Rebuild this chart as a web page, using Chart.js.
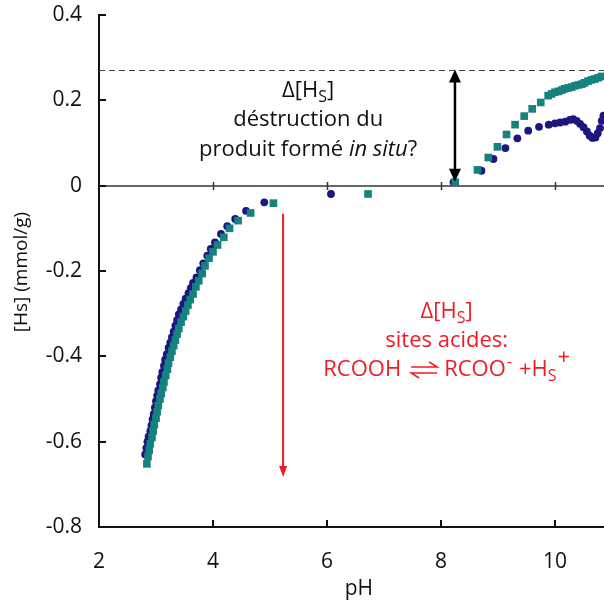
<!DOCTYPE html>
<html><head><meta charset="utf-8">
<script src="https://cdn.jsdelivr.net/npm/chart.js@4/dist/chart.umd.min.js"></script>
<style>html,body{margin:0;padding:0;background:#fff}canvas{display:block}</style>
</head><body>
<canvas id="c" width="604" height="604"></canvas>
<script>
// ---- tick labels ----
const xTicks = [2, 4, 6, 8, 10];
const yTicks = [0.4, 0.2, 0, -0.2, -0.4, -0.6, -0.8];
const yTickLabels = ['0.4', '0.2', '0', '-0.2', '-0.4', '-0.6', '-0.8'];

// ---- series 1 (navy circles) ----
const circlePH = [2.81,2.83,2.85,2.87,2.90,2.92,2.94,2.96,2.98,3.00,3.02,3.04,3.07,3.09,3.11,3.14,3.16,3.19,3.22,3.25,3.28,3.31,3.34,3.37,3.40,3.44,3.48,3.52,3.57,3.61,3.65,3.71,3.77,3.83,3.90,3.96,4.035,4.14,4.25,4.39,4.58,4.90,6.07,
  8.22,8.71,8.92,9.13,9.34,9.53,9.72,9.89,10.0,10.09,10.18,10.26,10.32,10.38,10.44,10.50,10.56,10.61,10.66,10.71,10.75,10.79,10.82,10.85];
const circleHs = [-0.630,-0.615,-0.600,-0.588,-0.575,-0.562,-0.548,-0.535,-0.520,-0.505,-0.492,-0.480,-0.465,-0.450,-0.437,-0.422,-0.408,-0.395,-0.380,-0.368,-0.355,-0.342,-0.328,-0.315,-0.302,-0.290,-0.277,-0.265,-0.252,-0.240,-0.228,-0.215,-0.198,-0.182,-0.164,-0.148,-0.133,-0.113,-0.095,-0.078,-0.059,-0.039,-0.0195,
  0.008,0.035,0.0625,0.088,0.111,0.129,0.138,0.143,0.146,0.148,0.150,0.154,0.156,0.152,0.145,0.137,0.127,0.117,0.112,0.113,0.123,0.135,0.152,0.164];

// ---- series 2 (teal squares) ----
const squarePH = [2.84,2.86,2.88,2.90,2.93,2.95,2.97,3.00,3.02,3.04,3.07,3.09,3.12,3.14,3.17,3.20,3.22,3.25,3.28,3.31,3.34,3.37,3.40,3.44,3.48,3.52,3.56,3.60,3.65,3.70,3.75,3.81,3.86,3.93,4.00,4.08,4.19,4.29,4.44,4.66,5.06,6.72,
  8.25,8.64,8.83,8.99,9.15,9.30,9.46,9.60,9.75,9.88,9.94,10.0,10.06,10.12,10.17,10.23,10.29,10.35,10.41,10.47,10.52,10.58,10.64,10.70,10.76,10.82];
const squareHs = [-0.652,-0.635,-0.620,-0.605,-0.590,-0.575,-0.560,-0.545,-0.530,-0.515,-0.500,-0.487,-0.473,-0.460,-0.445,-0.430,-0.416,-0.402,-0.388,-0.375,-0.362,-0.348,-0.335,-0.320,-0.307,-0.294,-0.280,-0.267,-0.254,-0.237,-0.223,-0.206,-0.188,-0.170,-0.155,-0.139,-0.121,-0.100,-0.082,-0.064,-0.041,-0.0195,
  0.008,0.037,0.066,0.091,0.120,0.143,0.163,0.180,0.195,0.211,0.215,0.219,0.221,0.224,0.227,0.229,0.231,0.234,0.236,0.238,0.241,0.245,0.248,0.250,0.253,0.256];

// ---- annotation levels ----
const dashedLevel = 0.272;
const blackArrow = {x: 8.245, from: 0.272, to: 0.0};
const redArrow = {x: 5.23, from: -0.066, to: -0.683};

const FONT = "'Open Sans', 'Noto Sans', sans-serif";
const NAVY = '#1c1680';
const TEAL = '#16827e';
const RED = '#ee1c24';

function drawHs(ctx, cx, cy, size, color) {
  ctx.save();
  ctx.fillStyle = color;
  ctx.textBaseline = 'middle';
  ctx.textAlign = 'left';
  const big = size + 'px ' + FONT, small = Math.round(size * 0.72) + 'px ' + FONT;
  ctx.font = big; const w1 = ctx.measureText('Δ[H').width; const w3 = ctx.measureText(']').width;
  ctx.font = small; const w2 = ctx.measureText('S').width;
  let x = cx - (w1 + w2 + w3) / 2;
  ctx.font = big; ctx.fillText('Δ[H', x, cy); x += w1;
  ctx.font = small; ctx.fillText('S', x, cy + size * 0.28); x += w2;
  ctx.font = big; ctx.fillText(']', x, cy);
  ctx.restore();
}

function arrowHead(ctx, x, y, dir, w, l) {
  ctx.beginPath();
  ctx.moveTo(x, y);
  ctx.lineTo(x - w / 2, y - dir * l);
  ctx.lineTo(x + w / 2, y - dir * l);
  ctx.closePath();
  ctx.fill();
}

const deco = {
  id: 'deco',
  beforeDatasetsDraw(chart) {
    const {ctx, chartArea: a, scales: {x: xs, y: ys}} = chart;
    ctx.save();
    const y0 = Math.round(ys.getPixelForValue(0));
    ctx.strokeStyle = '#333'; ctx.lineWidth = 1.5;
    ctx.beginPath(); ctx.moveTo(a.left, y0); ctx.lineTo(a.right, y0); ctx.stroke();
    xTicks.slice(1).forEach(v => {
      const px = Math.round(xs.getPixelForValue(v)) + 0.5;
      ctx.beginPath(); ctx.moveTo(px, y0 - 4); ctx.lineTo(px, y0 + 4); ctx.stroke();
    });
    const yd = ys.getPixelForValue(dashedLevel);
    ctx.strokeStyle = '#444'; ctx.lineWidth = 1; ctx.setLineDash([6, 4]);
    ctx.beginPath(); ctx.moveTo(a.left, Math.round(yd) + 0.5); ctx.lineTo(a.right, Math.round(yd) + 0.5); ctx.stroke();
    ctx.setLineDash([]);
    ctx.strokeStyle = '#111'; ctx.lineWidth = 2;
    yTicks.forEach(v => {
      const py = Math.round(ys.getPixelForValue(v));
      ctx.beginPath(); ctx.moveTo(a.left, py); ctx.lineTo(a.left + 7, py); ctx.stroke();
    });
    xTicks.slice(1).forEach(v => {
      const px = Math.round(xs.getPixelForValue(v));
      ctx.beginPath(); ctx.moveTo(px, a.bottom); ctx.lineTo(px, a.bottom - 7); ctx.stroke();
    });
    ctx.restore();
  },
  afterDraw(chart) {
    const {ctx, scales: {x: xs, y: ys}} = chart;
    ctx.save();
    // black double arrow
    const bx = xs.getPixelForValue(blackArrow.x);
    const bt = ys.getPixelForValue(blackArrow.from), bb = ys.getPixelForValue(blackArrow.to) - 4;
    ctx.strokeStyle = '#000'; ctx.fillStyle = '#000'; ctx.lineWidth = 2.5;
    ctx.beginPath(); ctx.moveTo(bx, bt + 8); ctx.lineTo(bx, bb - 8); ctx.stroke();
    arrowHead(ctx, bx, bt, -1, 12, 13);
    arrowHead(ctx, bx, bb, 1, 12, 13);
    // red arrow
    const rx = xs.getPixelForValue(redArrow.x);
    const rt = ys.getPixelForValue(redArrow.from), rb = ys.getPixelForValue(redArrow.to);
    ctx.strokeStyle = RED; ctx.fillStyle = RED; ctx.lineWidth = 2;
    ctx.beginPath(); ctx.moveTo(rx, rt); ctx.lineTo(rx, rb - 8); ctx.stroke();
    arrowHead(ctx, rx, rb, 1, 8, 11);

    const size = 22;
    const big = size + 'px ' + FONT, ital = 'italic ' + size + 'px ' + FONT, small = Math.round(size * 0.72) + 'px ' + FONT;
    // black text
    const tx = xs.getPixelForValue(5.67);
    drawHs(ctx, tx, 91, size, '#111');
    ctx.fillStyle = '#111'; ctx.textAlign = 'center'; ctx.textBaseline = 'middle';
    ctx.font = big;
    ctx.fillText('déstruction du', tx, 120);
    {
      const p1 = 'produit formé ', p2 = 'in situ', p3 = '?';
      ctx.font = big; const w1 = ctx.measureText(p1).width, w3 = ctx.measureText(p3).width;
      ctx.font = ital; const w2 = ctx.measureText(p2).width;
      let x = tx - (w1 + w2 + w3) / 2;
      ctx.textAlign = 'left';
      ctx.font = big; ctx.fillText(p1, x, 150); x += w1;
      ctx.font = ital; ctx.fillText(p2, x, 150); x += w2;
      ctx.font = big; ctx.fillText(p3, x, 150);
    }

    // red text
    const rcx = xs.getPixelForValue(8.1);
    drawHs(ctx, rcx, 312, size, RED);
    ctx.fillStyle = RED; ctx.textAlign = 'center'; ctx.textBaseline = 'middle';
    ctx.font = big;
    ctx.fillText('sites acides:', rcx, 341);
    {
      const ey = 370;
      ctx.textAlign = 'left';
      ctx.font = big; const wA = ctx.measureText('RCOOH').width, wB = ctx.measureText('RCOO').width,
        wD = ctx.measureText('+H').width;
      ctx.font = small; const wC = ctx.measureText('-').width, wE = ctx.measureText('S').width;
      ctx.font = big; const wF = ctx.measureText('+').width;
      const hw = 26;
      const total = wA + 10 + hw + 7 + wB + 1 + wC + 7 + wD + wE + 1 + wF;
      let x = rcx - total / 2;
      ctx.font = big; ctx.fillText('RCOOH', x, ey); x += wA + 10;
      ctx.strokeStyle = RED; ctx.lineWidth = 1.5;
      ctx.beginPath();
      ctx.moveTo(x, ey - 3); ctx.lineTo(x + hw, ey - 3); ctx.lineTo(x + hw - 8, ey - 8);
      ctx.moveTo(x + hw, ey + 3); ctx.lineTo(x, ey + 3); ctx.lineTo(x + 8, ey + 8);
      ctx.stroke();
      x += hw + 7;
      ctx.font = big; ctx.fillText('RCOO', x, ey); x += wB + 1;
      ctx.font = small; ctx.fillText('-', x, ey - 8); x += wC + 7;
      ctx.font = big; ctx.fillText('+H', x, ey); x += wD;
      ctx.font = small; ctx.fillText('S', x, ey + 6); x += wE + 1;
      ctx.font = big; ctx.fillText('+', x, ey - 12);
    }

    // axis titles
    ctx.fillStyle = '#111'; ctx.textAlign = 'center'; ctx.textBaseline = 'middle';
    ctx.font = '21px ' + FONT;
    ctx.fillText('pH', xs.getPixelForValue(6.56), 589);
    ctx.font = '19px ' + FONT;
    ctx.translate(22, 272);
    ctx.rotate(-Math.PI / 2);
    ctx.fillText('[Hs] (mmol/g)', 0, 0);
    ctx.restore();
  }
};

const circles = circlePH.map((v, i) => ({x: v, y: circleHs[i]}));
const squares = squarePH.map((v, i) => ({x: v, y: squareHs[i]}));

new Chart(document.getElementById('c'), {
  type: 'scatter',
  data: {
    datasets: [
      {label: 'série 1', data: circles, order: 1, pointStyle: 'circle', pointRadius: 3.9,
       backgroundColor: NAVY, borderColor: NAVY, borderWidth: 0, showLine: false},
      {label: 'série 2', data: squares, order: 0, pointStyle: 'rect', pointRadius: 5.4,
       backgroundColor: TEAL, borderColor: TEAL, borderWidth: 0, showLine: false}
    ]
  },
  options: {
    responsive: false,
    animation: false,
    devicePixelRatio: 1,
    layout: {autoPadding: false, padding: {top: 15, right: 0, left: 0, bottom: 0}},
    plugins: {legend: {display: false}, tooltip: {enabled: false}},
    scales: {
      x: {
        type: 'linear', min: 2, max: 10.86,
        afterBuildTicks: s => { s.ticks = xTicks.map(v => ({value: v})); },
        afterFit: s => { s.height = 77; s.paddingLeft = 0; s.paddingRight = 0; },
        grid: {display: false, drawTicks: false},
        border: {display: true, color: '#111', width: 2},
        ticks: {padding: 22, color: '#111', font: {family: FONT, size: 21}, maxRotation: 0,
                callback: v => String(v)}
      },
      y: {
        type: 'linear', min: -0.8, max: 0.4,
        afterBuildTicks: s => { s.ticks = yTicks.map(v => ({value: v})); },
        afterFit: s => { s.width = 99; s.paddingTop = 0; s.paddingBottom = 0; },
        grid: {display: false, drawTicks: false},
        border: {display: true, color: '#111', width: 2},
        ticks: {padding: 17, color: '#111', font: {family: FONT, size: 21},
                callback: (v) => { const i = yTicks.findIndex(t => Math.abs(t - v) < 1e-9); return i >= 0 ? yTickLabels[i] : ''; }}
      }
    }
  },
  plugins: [deco]
});
</script>
</body></html>
